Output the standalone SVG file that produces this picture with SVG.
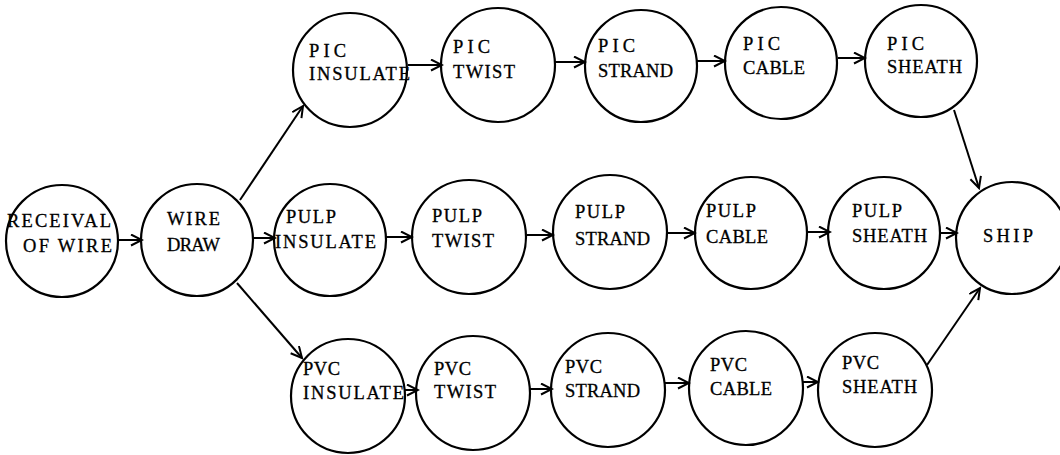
<svg xmlns="http://www.w3.org/2000/svg" width="1060" height="455" viewBox="0 0 1060 455">
<style>
.n circle{fill:none;stroke:#000;stroke-width:2.2}
.n text{font-family:"Liberation Serif","Times New Roman",serif;font-size:18.5px;fill:#000;stroke:#000;stroke-width:0.3}
#edges line{stroke:#000;stroke-width:2;marker-end:url(#ah)}
</style>
<defs>
<marker id="ah" markerUnits="userSpaceOnUse" markerWidth="14" markerHeight="14" refX="12" refY="6" orient="auto">
<path d="M1,0.5 L12,6 L1,11.5" fill="none" stroke="#000" stroke-width="2"/>
</marker>
</defs>
<rect width="1060" height="455" fill="#fff"/>
<g id="edges">
<line x1="118" y1="240" x2="142" y2="240"/>
<line x1="240" y1="200" x2="303" y2="106"/>
<line x1="253" y1="238" x2="275" y2="238"/>
<line x1="237" y1="283" x2="302" y2="358"/>
<line x1="408" y1="65" x2="442" y2="65"/>
<line x1="555" y1="62" x2="585" y2="62"/>
<line x1="697" y1="61" x2="725" y2="61"/>
<line x1="838" y1="58" x2="865" y2="58"/>
<line x1="954" y1="110" x2="979" y2="188"/>
<line x1="386" y1="237" x2="412" y2="237"/>
<line x1="527" y1="235" x2="553" y2="235"/>
<line x1="667" y1="233" x2="695" y2="233"/>
<line x1="808" y1="232" x2="830" y2="232"/>
<line x1="940" y1="233" x2="957" y2="233"/>
<line x1="405" y1="390" x2="418" y2="390"/>
<line x1="530" y1="389" x2="552" y2="389"/>
<line x1="665" y1="383" x2="689" y2="383"/>
<line x1="803" y1="382" x2="818" y2="382"/>
<line x1="927" y1="365" x2="980" y2="288"/>
</g>
<g id="receival" class="n"><circle cx="62" cy="241" r="56"/><text x="7" y="227" textLength="104" lengthAdjust="spacing">RECEIVAL</text><text x="23" y="252" textLength="89" lengthAdjust="spacing">OF WIRE</text></g>
<g id="wiredraw" class="n"><circle cx="197" cy="240" r="56"/><text x="167" y="225" textLength="53" lengthAdjust="spacing">WIRE</text><text x="167" y="251" textLength="53" lengthAdjust="spacing">DRAW</text></g>
<g id="pic-insulate" class="n"><circle cx="350" cy="70" r="57"/><text x="309" y="57" textLength="37" lengthAdjust="spacing">PIC</text><text x="309" y="80" textLength="101" lengthAdjust="spacing">INSULATE</text></g>
<g id="pic-twist" class="n"><circle cx="498" cy="65" r="57"/><text x="453" y="53" textLength="37" lengthAdjust="spacing">PIC</text><text x="453" y="78" textLength="62" lengthAdjust="spacing">TWIST</text></g>
<g id="pic-strand" class="n"><circle cx="641" cy="66" r="56"/><text x="598" y="52" textLength="37" lengthAdjust="spacing">PIC</text><text x="598" y="77" textLength="75" lengthAdjust="spacing">STRAND</text></g>
<g id="pic-cable" class="n"><circle cx="781" cy="63" r="56"/><text x="743" y="50" textLength="37" lengthAdjust="spacing">PIC</text><text x="743" y="74" textLength="62" lengthAdjust="spacing">CABLE</text></g>
<g id="pic-sheath" class="n"><circle cx="921" cy="61" r="56"/><text x="887" y="50" textLength="37" lengthAdjust="spacing">PIC</text><text x="887" y="73" textLength="75" lengthAdjust="spacing">SHEATH</text></g>
<g id="pulp-insulate" class="n"><circle cx="330" cy="240" r="56"/><text x="286" y="223" textLength="50" lengthAdjust="spacing">PULP</text><text x="275" y="248" textLength="101" lengthAdjust="spacing">INSULATE</text></g>
<g id="pulp-twist" class="n"><circle cx="469" cy="237" r="57"/><text x="432" y="222" textLength="50" lengthAdjust="spacing">PULP</text><text x="432" y="247" textLength="62" lengthAdjust="spacing">TWIST</text></g>
<g id="pulp-strand" class="n"><circle cx="610" cy="232" r="57"/><text x="575" y="218" textLength="50" lengthAdjust="spacing">PULP</text><text x="575" y="245" textLength="75" lengthAdjust="spacing">STRAND</text></g>
<g id="pulp-cable" class="n"><circle cx="751" cy="233" r="56"/><text x="706" y="217" textLength="50" lengthAdjust="spacing">PULP</text><text x="706" y="243" textLength="62" lengthAdjust="spacing">CABLE</text></g>
<g id="pulp-sheath" class="n"><circle cx="884" cy="233" r="56"/><text x="852" y="217" textLength="50" lengthAdjust="spacing">PULP</text><text x="852" y="242" textLength="75" lengthAdjust="spacing">SHEATH</text></g>
<g id="ship" class="n"><circle cx="1012" cy="238" r="56"/><text x="983" y="242" textLength="50" lengthAdjust="spacing">SHIP</text></g>
<g id="pvc-insulate" class="n"><circle cx="348" cy="396" r="57"/><text x="303" y="375" textLength="37" lengthAdjust="spacing">PVC</text><text x="303" y="399" textLength="101" lengthAdjust="spacing">INSULATE</text></g>
<g id="pvc-twist" class="n"><circle cx="473" cy="393" r="57"/><text x="434" y="375" textLength="37" lengthAdjust="spacing">PVC</text><text x="434" y="398" textLength="62" lengthAdjust="spacing">TWIST</text></g>
<g id="pvc-strand" class="n"><circle cx="608" cy="390" r="57"/><text x="565" y="373" textLength="37" lengthAdjust="spacing">PVC</text><text x="565" y="397" textLength="75" lengthAdjust="spacing">STRAND</text></g>
<g id="pvc-cable" class="n"><circle cx="746" cy="388" r="57"/><text x="710" y="371" textLength="37" lengthAdjust="spacing">PVC</text><text x="710" y="395" textLength="62" lengthAdjust="spacing">CABLE</text></g>
<g id="pvc-sheath" class="n"><circle cx="875" cy="390" r="57"/><text x="842" y="369" textLength="37" lengthAdjust="spacing">PVC</text><text x="842" y="393" textLength="75" lengthAdjust="spacing">SHEATH</text></g>
</svg>
